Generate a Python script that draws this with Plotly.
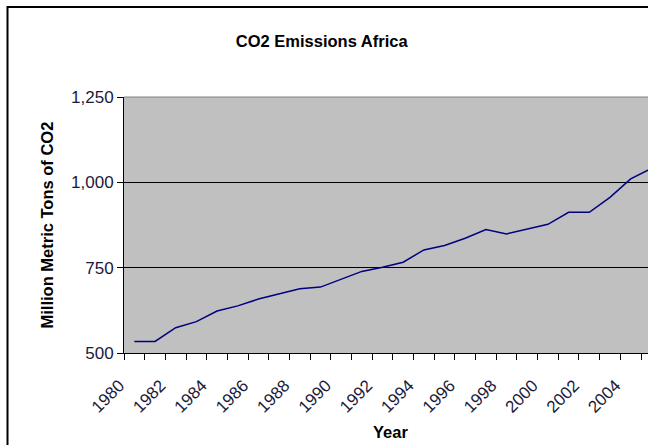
import plotly.graph_objects as go

# Annual CO2 emissions for Africa (million metric tons)
years = list(range(1980, 2006))
emissions = [534, 534, 574, 592, 623, 638, 658, 672, 688, 693,
             717, 739, 751, 766, 802, 815, 836, 862, 849, 862,
             877, 912, 912, 956, 1010, 1041]

year_labels = [str(y) for y in range(1980, 2006, 2)]
y_ticks = [500, 750, 1000, 1250]

W, H = 648, 445
L, R, T, B = 124, 0, 97, 92
PW = W - L - R
PH = H - T - B

FONT = "Liberation Sans, Arial, sans-serif"
TICK_COLOR = "#1a1a3a"


def px_x(p):
    return (p - L) / PW


def px_y(p):
    return (H - B - p) / PH


fig = go.Figure()
fig.add_trace(go.Scatter(
    x=years, y=emissions, mode="lines",
    line=dict(color="#000080", width=1.5),
    cliponaxis=True, showlegend=False,
))

fig.update_layout(
    width=W, height=H,
    margin=dict(l=L, r=R, t=T, b=B),
    paper_bgcolor="white",
    plot_bgcolor="#c0c0c0",
    font=dict(family=FONT, size=16, color="black"),
    title=dict(text="<b>CO2 Emissions Africa</b>", font=dict(size=16.5, color="black"),
               x=321.7 / W, xref="container", xanchor="center",
               y=1 - 41.7 / H, yref="container", yanchor="middle"),
    xaxis=dict(
        range=[1979.5, 1979.5 + PW / 20.68],
        tickvals=[int(v) for v in year_labels], ticktext=year_labels,
        tickangle=-45, ticks="", showgrid=False, zeroline=False,
        showline=True, linecolor="black", linewidth=1,
        tickfont=dict(size=17, color=TICK_COLOR),
        ticklabelstandoff=15, ticklabelshift=-15,
        minor=dict(tick0=1979.5, dtick=1, ticks="outside", ticklen=6,
                   tickcolor="black", tickwidth=1, showgrid=False),
    ),
    yaxis=dict(
        range=[500, 1250], tickvals=y_ticks, tickformat=",",
        ticks="outside", ticklen=6, tickcolor="black",
        showgrid=True, gridcolor="black", gridwidth=1, zeroline=False,
        showline=True, linecolor="black", linewidth=1,
        tickfont=dict(size=17, color=TICK_COLOR),
    ),
    annotations=[
        dict(text="<b>Million Metric Tons of CO2</b>", textangle=-90,
             xref="paper", yref="paper", x=px_x(46.5), y=px_y(225),
             xanchor="center", yanchor="middle", showarrow=False,
             font=dict(size=16.5, color="black")),
        dict(text="<b>Year</b>", xref="paper", yref="paper",
             x=px_x(390.5), y=px_y(432), xanchor="center", yanchor="middle",
             showarrow=False, font=dict(size=16.5, color="black")),
    ],
    shapes=[
        # chart area frame (left and top edges)
        dict(type="line", xref="paper", yref="paper",
             x0=px_x(7.5), x1=px_x(W + 5), y0=px_y(7), y1=px_y(7),
             line=dict(color="black", width=2)),
        dict(type="line", xref="paper", yref="paper",
             x0=px_x(7.5), x1=px_x(7.5), y0=px_y(6), y1=px_y(H + 5),
             line=dict(color="black", width=2)),
        # plot area top border
        dict(type="line", xref="paper", yref="paper",
             x0=0, x1=1, y0=1, y1=1, line=dict(color="#808080", width=1)),
    ],
)

fig.write_html("out.html")
